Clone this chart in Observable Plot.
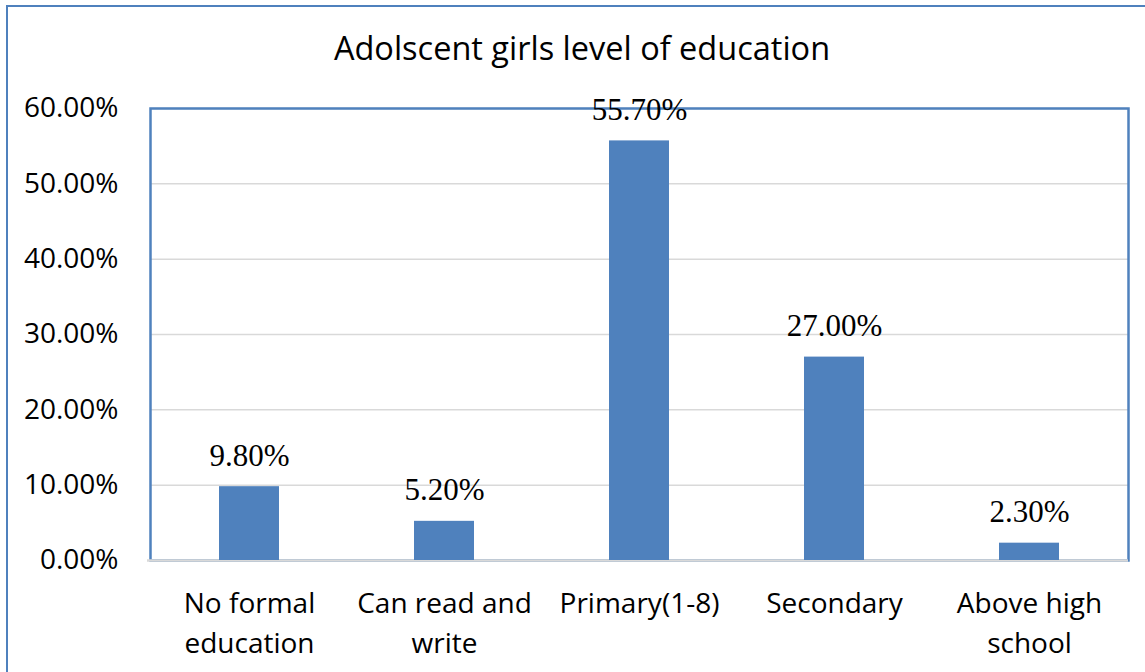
<!DOCTYPE html>
<html>
<head>
<meta charset="utf-8">
<script src="https://cdn.jsdelivr.net/npm/d3@7"></script>
<script src="https://cdn.jsdelivr.net/npm/@observablehq/plot@0.6"></script>
<style>
  html, body { margin: 0; padding: 0; background: #fff; overflow: hidden; }
  #wrap { position: relative; width: 1145px; height: 672px; overflow: hidden; }
  #border { position: absolute; left: 6px; top: 5px; width: 1300px; height: 900px; border: 2.5px solid #4F81BD; box-sizing: border-box; pointer-events: none; }
  #title { position: relative; height: 65px; box-sizing: border-box; padding-top: 32px; font: 32.5px/32px "Open Sans", sans-serif; text-align: center; color: #000; padding-left: 19px; }
  #chart svg { display: block; }
  #chart svg g.vlabels text { font-family: "Liberation Serif", serif !important; }
</style>
</head>
<body>
<div id="wrap">
  <div id="border"></div>
  <div id="title">Adolscent girls level of education</div>
  <div id="chart"></div>
</div>
<script>
const categories = ["No formal\neducation", "Can read and\nwrite", "Primary(1-8)", "Secondary", "Above high\nschool"];
const values = [9.8, 5.2, 55.7, 27.0, 2.3];
const valueLabels = ["9.80%", "5.20%", "55.70%", "27.00%", "2.30%"];
const yTicks = [0, 10, 20, 30, 40, 50, 60];

const data = categories.map((c, i) => ({category: c, value: values[i], label: valueLabels[i]}));
const blue = "#4F81BD";

const chart = Plot.plot({
  width: 1145,
  height: 607,
  marginLeft: 150,
  marginRight: 17,
  marginTop: 43,
  marginBottom: 112,
  style: {fontFamily: "'Open Sans', sans-serif", color: "#000", background: "transparent"},
  x: {domain: categories, paddingInner: 0.69, paddingOuter: 0.345},
  y: {domain: [0, 60]},
  marks: [
    Plot.gridY(yTicks, {stroke: "#d9d9d9", strokeOpacity: 1, strokeWidth: 1.5}),
    Plot.frame({stroke: blue, strokeWidth: 2.5}),
    Plot.ruleY([0], {stroke: "#d9d9d9", strokeWidth: 2.5, insetLeft: -3}),
    Plot.barY(data, {x: "category", y: "value", fill: blue}),
    Plot.text(data, {x: "category", y: "value", text: "label", lineAnchor: "bottom", dy: -21,
      className: "vlabels", fontFamily: "Liberation Serif", fontSize: 31, fill: "#000"}),
    Plot.axisY(yTicks, {tickSize: 0, tickPadding: 32, fontSize: 28, tickFormat: d => d.toFixed(2) + "%", label: null, fill: "#000"}),
    Plot.axisX({tickSize: 0, tickPadding: 25, fontSize: 28, lineHeight: 1.4, label: null, fill: "#000"})
  ]
});
document.getElementById("chart").appendChild(chart);
</script>
</body>
</html>
